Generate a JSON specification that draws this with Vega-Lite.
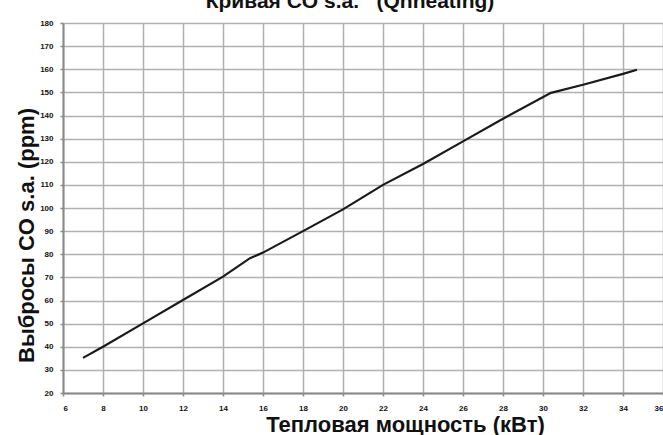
{
  "$schema": "https://vega.github.io/schema/vega-lite/v6.json",
  "width": 600,
  "height": 370,
  "autosize": {"type": "none"},
  "padding": {"left": 63, "top": 23, "right": 0, "bottom": 42},
  "background": "white",
  "title": {
    "text": "Кривая CO s.a.\u00a0\u00a0\u00a0(Qnheating)",
    "font": "Liberation Sans",
    "fontSize": 21,
    "fontWeight": "bold",
    "color": "#111111",
    "anchor": "middle",
    "frame": "group",
    "baseline": "alphabetic",
    "offset": 2,
    "dx": -13,
    "dy": 12
  },
  "config": {
    "view": {"stroke": null},
    "axis": {
      "labelFont": "Liberation Sans",
      "labelFontWeight": "bold",
      "labelFontSize": 8,
      "labelColor": "#111111",
      "titleFont": "Liberation Sans",
      "titleFontWeight": "bold",
      "titleFontSize": 22,
      "titleColor": "#111111",
      "gridColor": "#b0b0b0",
      "gridWidth": 1.5,
      "gridOpacity": 1,
      "domainColor": "#8a8a8a",
      "domainWidth": 2,
      "tickColor": "#8a8a8a",
      "tickSize": 3,
      "tickWidth": 1.5
    }
  },
  "data": {
    "values": [
      {"p": 7.0, "co": 35.2},
      {"p": 8.0, "co": 40.0},
      {"p": 10.0, "co": 50.1},
      {"p": 12.0, "co": 60.2},
      {"p": 14.0, "co": 70.3},
      {"p": 15.35, "co": 78.3},
      {"p": 16.0, "co": 80.7},
      {"p": 18.0, "co": 90.0},
      {"p": 20.0, "co": 99.4},
      {"p": 22.0, "co": 110.0},
      {"p": 24.0, "co": 119.0},
      {"p": 26.0, "co": 128.8},
      {"p": 28.0, "co": 138.6},
      {"p": 30.4, "co": 149.8},
      {"p": 32.0, "co": 153.3},
      {"p": 34.0, "co": 158.0},
      {"p": 34.7, "co": 159.8}
    ]
  },
  "mark": {"type": "line", "color": "#1a1a1a", "strokeWidth": 2.2},
  "encoding": {
    "x": {
      "field": "p",
      "type": "quantitative",
      "scale": {"domain": [6, 36], "nice": false, "zero": false},
      "axis": {
        "title": "Тепловая мощность (кВт)",
        "values": [6, 8, 10, 12, 14, 16, 18, 20, 22, 24, 26, 28, 30, 32, 34, 36],
        "labelPadding": 8,
        "titleX": 342,
        "titleY": 38,
        "titleBaseline": "alphabetic",
        "titleAnchor": null
      }
    },
    "y": {
      "field": "co",
      "type": "quantitative",
      "scale": {"domain": [20, 180], "nice": false, "zero": false},
      "axis": {
        "title": "Выбросы CO s.a. (ppm)",
        "values": [20, 30, 40, 50, 60, 70, 80, 90, 100, 110, 120, 130, 140, 150, 160, 170, 180],
        "labelPadding": 7,
        "titleX": -30,
        "titleY": 212,
        "titleBaseline": "alphabetic",
        "titleAngle": -90
      }
    }
  }
}
